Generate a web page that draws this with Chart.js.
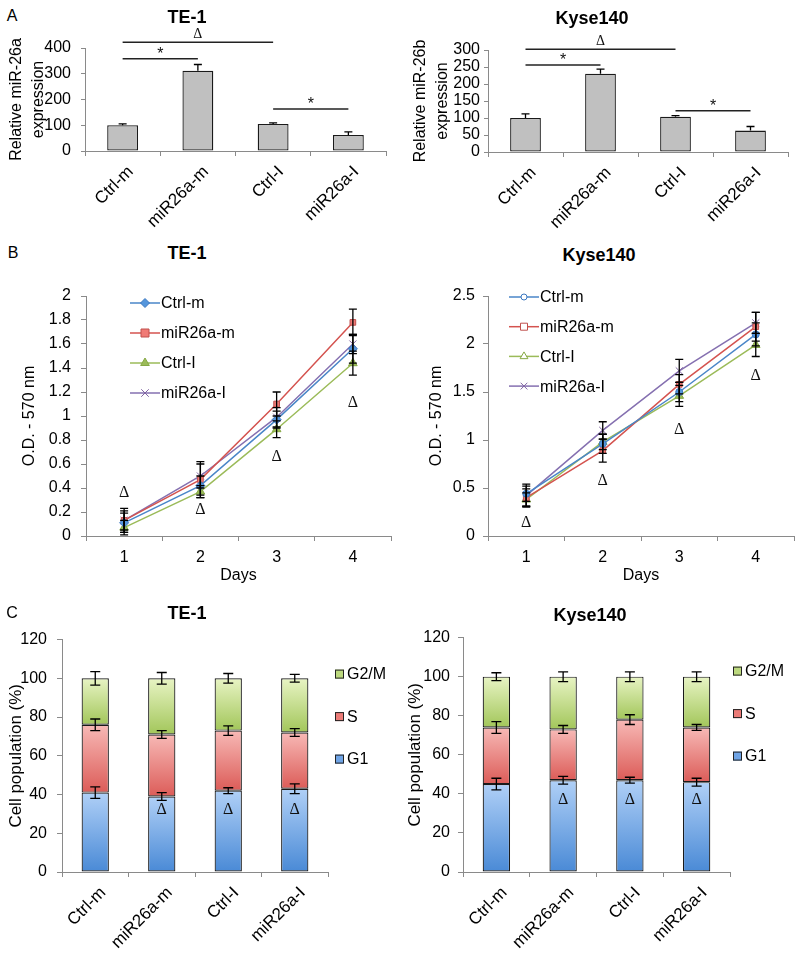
<!DOCTYPE html>
<html>
<head>
<meta charset="utf-8">
<script src="https://cdn.jsdelivr.net/npm/chart.js@4.4.1/dist/chart.umd.min.js"></script>
<style>
  body { margin: 0; background: #fff; }
  #page { position: relative; width: 800px; height: 953px; overflow: hidden; font-family: "Liberation Sans", Arial, sans-serif; }
  canvas { position: absolute; }
  .lbl { position: absolute; transform: translate(-50%, -50%); white-space: nowrap; color: #000; }
  .panel { font-size: 16px; }
  .ttl { font-size: 18px; font-weight: bold; }
</style>
</head>
<body>
<div id="page">
  <canvas id="a1" width="400" height="215" style="left:0;top:25px"></canvas>
  <canvas id="a2" width="400" height="215" style="left:400px;top:25px"></canvas>
  <canvas id="b1" width="400" height="320" style="left:0;top:270px"></canvas>
  <canvas id="b2" width="400" height="320" style="left:400px;top:270px"></canvas>
  <canvas id="c1" width="400" height="333" style="left:0;top:620px"></canvas>
  <canvas id="c2" width="400" height="333" style="left:400px;top:620px"></canvas>

  <div class="lbl panel" style="left:12px;top:16px">A</div>
  <div class="lbl panel" style="left:13px;top:253px">B</div>
  <div class="lbl panel" style="left:12px;top:613px">C</div>
  <div class="lbl ttl" style="left:187px;top:17px">TE-1</div>
  <div class="lbl ttl" style="left:592px;top:18px">Kyse140</div>
  <div class="lbl ttl" style="left:187px;top:253px">TE-1</div>
  <div class="lbl ttl" style="left:599px;top:255px">Kyse140</div>
  <div class="lbl ttl" style="left:187px;top:613px">TE-1</div>
  <div class="lbl ttl" style="left:590px;top:615px">Kyse140</div>
</div>
<script>
// ---- data ----
const groups = ['Ctrl-m', 'miR26a-m', 'Ctrl-I', 'miR26a-I'];

// A: relative expression
const te1Expr = [100, 312, 105, 62];
const te1ExprErr = [5, 24, 4, 12];
const kyseExpr = [100, 230, 104, 63];
const kyseExprErr = [12, 14, 3, 12];
const te1Brackets = [
  { from: 0, to: 2, y: 422, text: 'Δ' },
  { from: 0, to: 1, y: 358, text: '*' },
  { from: 2, to: 3, y: 163, text: '*' }
];
const kyseBrackets = [
  { from: 0, to: 2, y: 302, text: 'Δ' },
  { from: 0, to: 1, y: 256, text: '*' },
  { from: 2, to: 3, y: 121, text: '*' }
];

// B: O.D. by day
const days = ['1', '2', '3', '4'];
const te1CtrlM = [0.11, 0.42, 0.97, 1.56];
const te1MirM = [0.13, 0.47, 1.10, 1.78];
const te1CtrlI = [0.07, 0.37, 0.89, 1.44];
const te1MirI = [0.13, 0.50, 0.99, 1.60];
const te1CtrlMErr = [0.08, 0.08, 0.07, 0.12];
const te1MirMErr = [0.10, 0.15, 0.10, 0.11];
const te1CtrlIErr = [0.06, 0.05, 0.07, 0.10];
const te1MirIErr = [0.08, 0.10, 0.08, 0.08];
const te1DayMarks = [0.36, 0.22, 0.66, 1.11];

const kyseCtrlM = [0.44, 0.96, 1.50, 2.10];
const kyseMirM = [0.40, 0.89, 1.58, 2.18];
const kyseCtrlI = [0.38, 0.98, 1.46, 1.99];
const kyseMirI = [0.42, 1.10, 1.72, 2.22];
const kyseCtrlMErr = [0.08, 0.10, 0.10, 0.12];
const kyseMirMErr = [0.09, 0.12, 0.10, 0.15];
const kyseCtrlIErr = [0.07, 0.08, 0.11, 0.12];
const kyseMirIErr = [0.12, 0.09, 0.12, 0.11];
const kyseDayMarks = [0.135, 0.57, 1.11, 1.67];

// C: cell cycle
const te1G1 = [41, 39, 42, 43];
const te1S = [35, 32, 31, 29];
const te1G2M = [24, 29, 27, 28];
const te1G1Err = [3, 2, 1.5, 2.5];
const te1SErr = [3, 2, 2.5, 2];
const te1G2MErr = [3.5, 3, 2.5, 2];
const te1CycleMarks = [null, 32, 32, 32];

const kyseG1 = [45, 47, 47, 46];
const kyseS = [29, 26, 31, 28];
const kyseG2M = [26, 27, 22, 26];
const kyseG1Err = [3, 2, 1.5, 2];
const kyseSErr = [3, 2, 2.5, 1.5];
const kyseG2MErr = [2, 2.5, 2.5, 2.5];
const kyseCycleMarks = [null, 37, 37, 37];

// ---- style ----
const FONT = '"Liberation Sans", Arial, sans-serif';
const SERIF = '"Liberation Serif", "DejaVu Serif", serif';
const AXIS = '#8a8a8a';
Chart.defaults.font.family = FONT;
Chart.defaults.color = '#000';
Chart.defaults.animation = false;
Chart.defaults.plugins.legend.display = false;
Chart.defaults.plugins.tooltip.enabled = false;

// ---- plugins ----
const errorBars = {
  id: 'errorBars',
  afterDatasetsDraw(chart, args, opts) {
    const ctx = chart.ctx;
    const y = chart.scales.y;
    chart.data.datasets.forEach((ds, di) => {
      if (!ds.errors) return;
      chart.getDatasetMeta(di).data.forEach((el, i) => {
        const d = Math.abs(y.getPixelForValue(0) - y.getPixelForValue(ds.errors[i]));
        const top = el.y - d;
        const bot = opts.plusOnly ? el.y : el.y + d;
        ctx.save();
        ctx.strokeStyle = '#000';
        ctx.lineWidth = opts.width || 1.3;
        ctx.beginPath();
        ctx.moveTo(el.x, top); ctx.lineTo(el.x, bot);
        ctx.moveTo(el.x - opts.cap, top); ctx.lineTo(el.x + opts.cap, top);
        if (!opts.plusOnly) {
          ctx.moveTo(el.x - opts.cap, bot); ctx.lineTo(el.x + opts.cap, bot);
        }
        ctx.stroke();
        ctx.restore();
      });
    });
  }
};

// vertical gradient on every stacked segment, light at its top
const shading = {
  id: 'shading',
  beforeDatasetsDraw(chart) {
    const ctx = chart.ctx;
    chart.data.datasets.forEach((ds, di) => {
      if (!ds.shade) return;
      chart.getDatasetMeta(di).data.forEach(el => {
        const g = ctx.createLinearGradient(0, el.y, 0, el.base);
        g.addColorStop(0, ds.shade[0]);
        g.addColorStop(1, ds.shade[1]);
        el.options.backgroundColor = g;
      });
    });
  }
};

function drawSym(ctx, t, x, y, size, onLine) {
  if (t === '*') {
    ctx.font = '16px ' + FONT;
    ctx.fillText('*', x, onLine ? y - 4 : y + 3);
  } else {
    ctx.font = size + 'px ' + SERIF;
    ctx.fillText(t, x, onLine ? y - 8 : y);
  }
}

const marks = {
  id: 'marks',
  afterDraw(chart, args, opts) {
    const ctx = chart.ctx, xs = chart.scales.x, ys = chart.scales.y;
    ctx.save();
    ctx.textAlign = 'center';
    ctx.textBaseline = 'middle';
    ctx.fillStyle = '#111';
    ctx.strokeStyle = '#222';
    ctx.lineWidth = 1.5;
    (opts.brackets || []).forEach(b => {
      const x0 = xs.getPixelForValue(b.from), x1 = xs.getPixelForValue(b.to);
      const py = ys.getPixelForValue(b.y);
      ctx.beginPath(); ctx.moveTo(x0, py); ctx.lineTo(x1, py); ctx.stroke();
      drawSym(ctx, b.text, (x0 + x1) / 2, py, opts.size, true);
    });
    (opts.symbols || []).forEach((v, i) => {
      if (v === null) return;
      drawSym(ctx, 'Δ', xs.getPixelForValue(i), ys.getPixelForValue(v), opts.size, false);
    });
    ctx.restore();
  }
};

function marker(ctx, style, x, y, r) {
  ctx.beginPath();
  if (style === 'rect') {
    ctx.rect(x - r, y - r, 2 * r, 2 * r);
  } else if (style === 'rectRot') {
    ctx.moveTo(x, y - r); ctx.lineTo(x + r, y); ctx.lineTo(x, y + r); ctx.lineTo(x - r, y); ctx.closePath();
  } else if (style === 'triangle') {
    ctx.moveTo(x, y - r); ctx.lineTo(x + r * 0.87, y + r * 0.5); ctx.lineTo(x - r * 0.87, y + r * 0.5); ctx.closePath();
  } else if (style === 'circle') {
    ctx.arc(x, y, r, 0, Math.PI * 2);
  } else {
    const k = r * 0.75;
    ctx.moveTo(x - k, y - k); ctx.lineTo(x + k, y + k);
    ctx.moveTo(x + k, y - k); ctx.lineTo(x - k, y + k);
    ctx.stroke();
    return;
  }
  ctx.fill();
  ctx.stroke();
}

const lineLegend = {
  id: 'lineLegend',
  afterDraw(chart, args, opts) {
    const ctx = chart.ctx, a = chart.chartArea;
    ctx.save();
    ctx.font = '16px ' + FONT;
    ctx.textBaseline = 'middle';
    ctx.textAlign = 'left';
    chart.data.datasets.forEach((ds, i) => {
      const x = a.left + opts.dx, y = a.top + opts.dy + i * opts.gap;
      ctx.strokeStyle = ds.borderColor;
      ctx.lineWidth = 1.5;
      ctx.beginPath(); ctx.moveTo(x, y); ctx.lineTo(x + 30, y); ctx.stroke();
      ctx.fillStyle = opts.hollow ? '#fff' : ds.pointBackgroundColor;
      ctx.strokeStyle = ds.pointBorderColor;
      ctx.lineWidth = 1;
      marker(ctx, ds.pointStyle, x + 15, y, opts.hollow ? ds.pointRadius - 0.5 : ds.pointRadius);
      ctx.fillStyle = '#000';
      ctx.fillText(ds.label, x + 31, y + 1);
    });
    ctx.restore();
  }
};

const boxLegend = {
  id: 'boxLegend',
  afterDraw(chart, args, opts) {
    const ctx = chart.ctx, a = chart.chartArea;
    const n = chart.data.datasets.length;
    ctx.save();
    ctx.font = '16px ' + FONT;
    ctx.textBaseline = 'middle';
    ctx.textAlign = 'left';
    chart.data.datasets.forEach((ds, i) => {
      const row = n - 1 - i;
      const x = a.right + opts.dx, y = a.top + opts.dy + row * opts.gap;
      ctx.fillStyle = ds.legendColor;
      ctx.fillRect(x, y - 4, 9, 9);
      ctx.strokeStyle = '#222';
      ctx.lineWidth = 1;
      ctx.strokeRect(x + 0.5, y - 3.5, 8, 8);
      ctx.fillStyle = '#000';
      ctx.fillText(ds.label, x + 12, y + 1);
    });
    ctx.restore();
  }
};

// tick labels like "1.8", "2", "0.5"
const shortNum = v => String(Math.round(v * 100) / 100);

// ---- axis helpers ----
function yAxis(min, max, step, title, o) {
  return {
    min: min, max: max,
    stacked: !!o.stacked,
    ticks: { stepSize: step, padding: o.pad, color: '#000', font: { size: 16 }, autoSkip: false, callback: shortNum },
    grid: { drawOnChartArea: false, tickLength: o.tl, color: AXIS, tickColor: AXIS },
    border: { color: AXIS, width: 1 },
    title: {
      display: true, text: title, color: '#000',
      font: { size: o.size || 16, lineHeight: o.lh || 1.2 },
      padding: { top: o.tp, bottom: 0 }
    },
    afterFit(s) { s.width = o.w; }
  };
}

function xAxis(o) {
  const ax = {
    offset: true,
    stacked: !!o.stacked,
    ticks: {
      padding: o.pad, color: '#000', font: { size: o.fs || 16 }, autoSkip: false,
      minRotation: o.rot || 0, maxRotation: o.rot || 0, labelOffset: o.lo || 0
    },
    grid: { offset: true, drawOnChartArea: false, tickLength: o.tl, color: AXIS, tickColor: AXIS },
    border: { color: AXIS, width: 1 },
    afterFit(s) { s.height = o.h; }
  };
  if (o.title) {
    ax.title = { display: true, text: o.title, color: '#000', font: { size: 16 }, padding: { top: 0, bottom: o.tb } };
  }
  return ax;
}

// ---- A: bar charts ----
function exprChart(id, values, errs, brackets, yMax, yStep, yTitle, lay) {
  return new Chart(document.getElementById(id), {
    type: 'bar',
    data: {
      labels: groups,
      datasets: [{
        data: values, errors: errs,
        backgroundColor: '#c0c0c0', borderColor: '#1a1a1a', borderWidth: 1.3, borderSkipped: false,
        categoryPercentage: 1, barPercentage: 0.41
      }]
    },
    options: {
      responsive: false,
      layout: { padding: { top: lay.top, right: lay.right, left: 0, bottom: 0 } },
      scales: {
        x: xAxis({ tl: 5, pad: 6, h: lay.xh, rot: 45, lo: 8, fs: 17 }),
        y: yAxis(0, yMax, yStep, yTitle, { w: lay.yw, tl: 4, pad: lay.pad, tp: lay.tp, lh: 1.4 })
      },
      plugins: {
        errorBars: { plusOnly: true, cap: 4 },
        marks: { brackets: brackets, size: 14 }
      }
    },
    plugins: [errorBars, marks]
  });
}

exprChart('a1', te1Expr, te1ExprErr, te1Brackets, 400, 100, ['Relative miR-26a', 'expression'],
  { top: 23, right: 14, xh: 89, yw: 85, pad: 10, tp: 5 });
exprChart('a2', kyseExpr, kyseExprErr, kyseBrackets, 300, 50, ['Relative miR-26b', 'expression'],
  { top: 25, right: 12, xh: 88, yw: 88, pad: 4, tp: 9 });

// ---- B: growth curves ----
function seriesSet(vals, errs, filledMarkers) {
  const names = ['Ctrl-m', 'miR26a-m', 'Ctrl-I', 'miR26a-I'];
  const line = ['#4a86c8', '#d4534f', '#9bbb59', '#8570b0'];
  const fill = ['#5596dc', '#f07b76', '#9bbb59', '#8570b0'];
  const edge = ['#3c78c0', '#c0504d', '#86a844', '#8064a2'];
  const styles = [filledMarkers ? 'rectRot' : 'circle', 'rect', 'triangle', 'crossRot'];
  const radii = [filledMarkers ? 4.5 : 3.5, 4, 5, 5];
  return vals.map((v, i) => ({
    label: names[i], data: v, errors: errs[i],
    borderColor: line[i], borderWidth: 1.5,
    pointStyle: styles[i], pointRadius: radii[i],
    pointBackgroundColor: fill[i], pointBorderColor: edge[i], pointBorderWidth: 1,
    tension: 0
  }));
}

function growthChart(id, datasets, yMax, yStep, dayMarks, lay) {
  return new Chart(document.getElementById(id), {
    type: 'line',
    data: { labels: days, datasets: datasets },
    options: {
      responsive: false,
      layout: { padding: { top: 26, right: lay.right, left: 0, bottom: 0 } },
      scales: {
        x: xAxis({ tl: 5, pad: 7, h: 54, title: 'Days', tb: 5 }),
        y: yAxis(0, yMax, yStep, 'O.D. - 570 nm', { w: lay.yw, tl: 5, pad: lay.pad, tp: lay.tp })
      },
      plugins: {
        errorBars: { cap: 4 },
        marks: { symbols: dayMarks, size: 16 },
        lineLegend: lay.legend
      }
    },
    plugins: [errorBars, marks, lineLegend]
  });
}

growthChart('b1',
  seriesSet([te1CtrlM, te1MirM, te1CtrlI, te1MirI], [te1CtrlMErr, te1MirMErr, te1CtrlIErr, te1MirIErr], true),
  2, 0.2, te1DayMarks,
  { right: 9, yw: 86, pad: 10, tp: 20, legend: { dx: 44, dy: 7, gap: 30, hollow: false } });
growthChart('b2',
  seriesSet([kyseCtrlM, kyseMirM, kyseCtrlI, kyseMirI], [kyseCtrlMErr, kyseMirMErr, kyseCtrlIErr, kyseMirIErr], false),
  2.5, 0.5, kyseDayMarks,
  { right: 6, yw: 88, pad: 8, tp: 27, legend: { dx: 21, dy: 1, gap: 29.7, hollow: true } });

// ---- C: cell cycle stacked bars ----
function phase(label, data, errs, light, dark, legendColor) {
  return {
    label: label, data: data, errors: errs,
    shade: [light, dark], legendColor: legendColor,
    backgroundColor: () => dark,
    borderColor: '#1a1a1a', borderWidth: 1.2, borderSkipped: false,
    categoryPercentage: 1, barPercentage: 0.41
  };
}

function cycleChart(id, g1, s, g2m, errs, cycleMarks, lay) {
  return new Chart(document.getElementById(id), {
    type: 'bar',
    data: {
      labels: groups,
      datasets: [
        phase('G1', g1, errs[0], '#b0d0f7', '#4a8ad6', '#6fa4e6'),
        phase('S', s, errs[1], '#f7b9b6', '#dc5c58', '#ec7b77'),
        phase('G2/M', g2m, errs[2], '#e8f4c4', '#a2c65a', '#bcd97e')
      ]
    },
    options: {
      responsive: false,
      layout: { padding: { top: lay.top, right: lay.right, left: 0, bottom: 0 } },
      scales: {
        x: xAxis({ tl: 5, pad: 6, h: 81, rot: 45, lo: 8, stacked: true, fs: 17 }),
        y: yAxis(0, 120, 20, 'Cell population (%)', { w: lay.yw, tl: 5, pad: lay.pad, tp: lay.tp, size: 17, stacked: true })
      },
      plugins: {
        errorBars: { cap: 5 },
        marks: { symbols: cycleMarks, size: 16 },
        boxLegend: lay.legend
      }
    },
    plugins: [shading, errorBars, marks, boxLegend]
  });
}

cycleChart('c1', te1G1, te1S, te1G2M, [te1G1Err, te1SErr, te1G2MErr], te1CycleMarks,
  { top: 16, right: 72, yw: 62, pad: 10, tp: 6, legend: { dx: 7, dy: 34, gap: 42.5 } });
cycleChart('c2', kyseG1, kyseS, kyseG2M, [kyseG1Err, kyseSErr, kyseG2MErr], kyseCycleMarks,
  { top: 15, right: 70, yw: 63, pad: 8, tp: 5, legend: { dx: 3, dy: 33, gap: 42.5 } });
</script>
</body>
</html>
